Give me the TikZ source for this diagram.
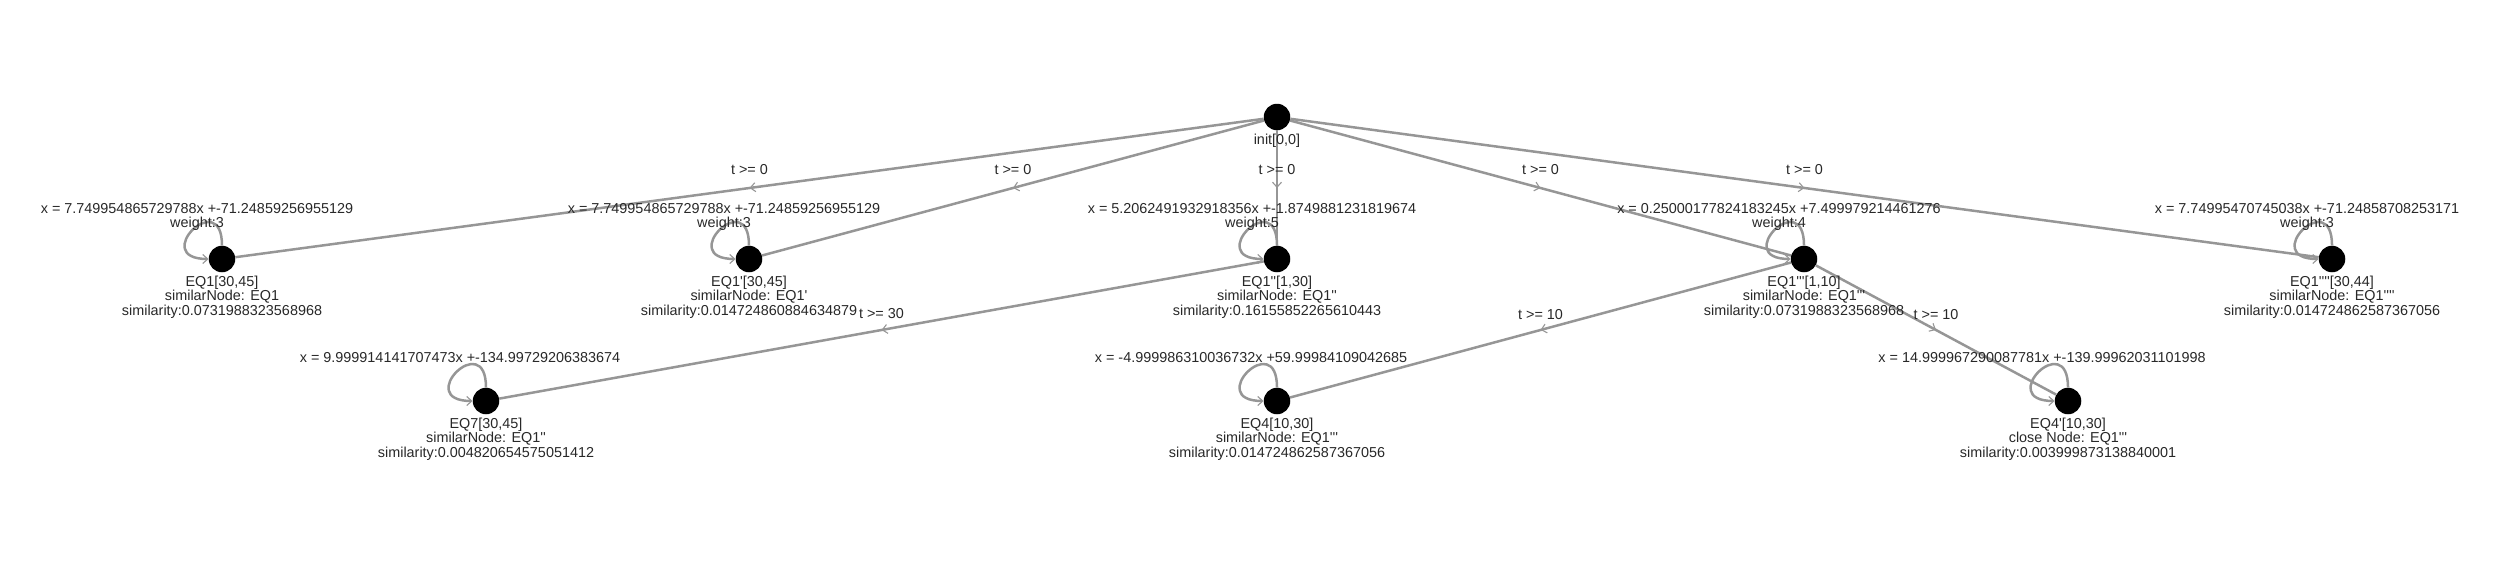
\documentclass[tikz,border=0pt]{standalone}
\usepackage{fontspec}
\setmainfont{Liberation Sans}[Ligatures=TeXOff]
\usetikzlibrary{arrows.meta,decorations.markings}
\definecolor{edgegray}{RGB}{150,150,150}
\definecolor{txtgray}{RGB}{40,40,40}
\newcommand{\lblfont}{\fontsize{14.4}{14.5}\selectfont\lineskiplimit=-20pt\relax}
\begin{document}
\begin{tikzpicture}[x=1pt,y=-1pt,
  st/.style={circle,fill=black,inner sep=0pt,minimum size=26.5pt},
  conn/.style={draw=edgegray,line width=2.5pt,
    postaction={decorate,decoration={markings,
      mark=at position 0.5 with {\arrow[edgegray]{Straight Barb[length=5pt,width=9pt,line width=1.1pt]}}}}},
  selfloop/.style={draw=edgegray,line width=2.5pt,-{Straight Barb[length=5pt,width=9pt,line width=1.1pt]}},
  txt/.style={font={\lblfont},text=txtgray,inner sep=0pt,align=center},
  elbl/.style={font={\lblfont},text=txtgray,inner sep=0pt}]
\useasboundingbox (0,0) rectangle (2500,562);
% nodes
\node[st] (init) at (1277,117) {};
\node[st] (eqA) at (222,259) {};
\node[st] (eqB) at (749,259) {};
\node[st] (eqC) at (1277,259) {};
\node[st] (eqD) at (1804,259) {};
\node[st] (eqE) at (2332,259) {};
\node[st] (eqF) at (486,401) {};
\node[st] (eqG) at (1277,401) {};
\node[st] (eqH) at (2068,401) {};
% edges
\draw[conn] (init) -- (eqA) node[elbl,midway,yshift=18pt] {t >= 0};
\draw[conn] (init) -- (eqB) node[elbl,midway,yshift=18pt] {t >= 0};
\draw[conn] (init) -- (eqC) node[elbl,midway,yshift=18pt] {t >= 0};
\draw[conn] (init) -- (eqD) node[elbl,midway,yshift=18pt] {t >= 0};
\draw[conn] (init) -- (eqE) node[elbl,midway,yshift=18pt] {t >= 0};
\draw[conn] (eqC) -- (eqF) node[elbl,midway,yshift=16pt] {t >= 30};
\draw[conn] (eqD) -- (eqG) node[elbl,midway,yshift=15pt] {t >= 10};
\draw[conn] (eqD) -- (eqH) node[elbl,midway,yshift=15pt] {t >= 10};
% self loops
\foreach \n in {eqA,eqB,eqC,eqD,eqE,eqF,eqG,eqH}{
  \draw[selfloop] (\n.north) .. controls +(0,-60) and +(-60,0) .. (\n.west);
}
% labels
\node[txt,anchor=north] (initbot) at ([yshift=-16.65pt]init.center) {\strut init[0,0]};

\node[txt,anchor=south] (eqAtop) at ([xshift=-25pt,yshift=26.5pt]eqA.center) {\strut x = 7.749954865729788x +-71.24859256955129\\\strut weight:3};
\node[txt,anchor=north] (eqAbot) at ([yshift=-16.65pt]eqA.center) {\strut EQ1[30,45]\\\strut similarNode: EQ1\\\strut similarity:0.0731988323568968};

\node[txt,anchor=south] (eqBtop) at ([xshift=-25pt,yshift=26.5pt]eqB.center) {\strut x = 7.749954865729788x +-71.24859256955129\\\strut weight:3};
\node[txt,anchor=north] (eqBbot) at ([yshift=-16.65pt]eqB.center) {\strut EQ1'[30,45]\\\strut similarNode: EQ1'\\\strut similarity:0.014724860884634879};

\node[txt,anchor=south] (eqCtop) at ([xshift=-25pt,yshift=26.5pt]eqC.center) {\strut x = 5.2062491932918356x +-1.8749881231819674\\\strut weight:5};
\node[txt,anchor=north] (eqCbot) at ([yshift=-16.65pt]eqC.center) {\strut EQ1''[1,30]\\\strut similarNode: EQ1''\\\strut similarity:0.16155852265610443};

\node[txt,anchor=south] (eqDtop) at ([xshift=-25pt,yshift=26.5pt]eqD.center) {\strut x = 0.25000177824183245x +7.499979214461276\\\strut weight:4};
\node[txt,anchor=north] (eqDbot) at ([yshift=-16.65pt]eqD.center) {\strut EQ1'''[1,10]\\\strut similarNode: EQ1'''\\\strut similarity:0.0731988323568968};

\node[txt,anchor=south] (eqEtop) at ([xshift=-25pt,yshift=26.5pt]eqE.center) {\strut x = 7.74995470745038x +-71.24858708253171\\\strut weight:3};
\node[txt,anchor=north] (eqEbot) at ([yshift=-16.65pt]eqE.center) {\strut EQ1''''[30,44]\\\strut similarNode: EQ1''''\\\strut similarity:0.014724862587367056};

\node[txt,anchor=south] (eqFtop) at ([xshift=-26pt,yshift=33.5pt]eqF.center) {\strut x = 9.999914141707473x +-134.99729206383674};
\node[txt,anchor=north] (eqFbot) at ([yshift=-16.65pt]eqF.center) {\strut EQ7[30,45]\\\strut similarNode: EQ1''\\\strut similarity:0.004820654575051412};

\node[txt,anchor=south] (eqGtop) at ([xshift=-26pt,yshift=33.5pt]eqG.center) {\strut x = -4.999986310036732x +59.99984109042685};
\node[txt,anchor=north] (eqGbot) at ([yshift=-16.65pt]eqG.center) {\strut EQ4[10,30]\\\strut similarNode: EQ1'''\\\strut similarity:0.014724862587367056};

\node[txt,anchor=south] (eqHtop) at ([xshift=-26pt,yshift=33.5pt]eqH.center) {\strut x = 14.999967290087781x +-139.99962031101998};
\node[txt,anchor=north] (eqHbot) at ([yshift=-16.65pt]eqH.center) {\strut EQ4'[10,30]\\\strut close Node: EQ1'''\\\strut similarity:0.003999873138840001};
\end{tikzpicture}
\end{document}
